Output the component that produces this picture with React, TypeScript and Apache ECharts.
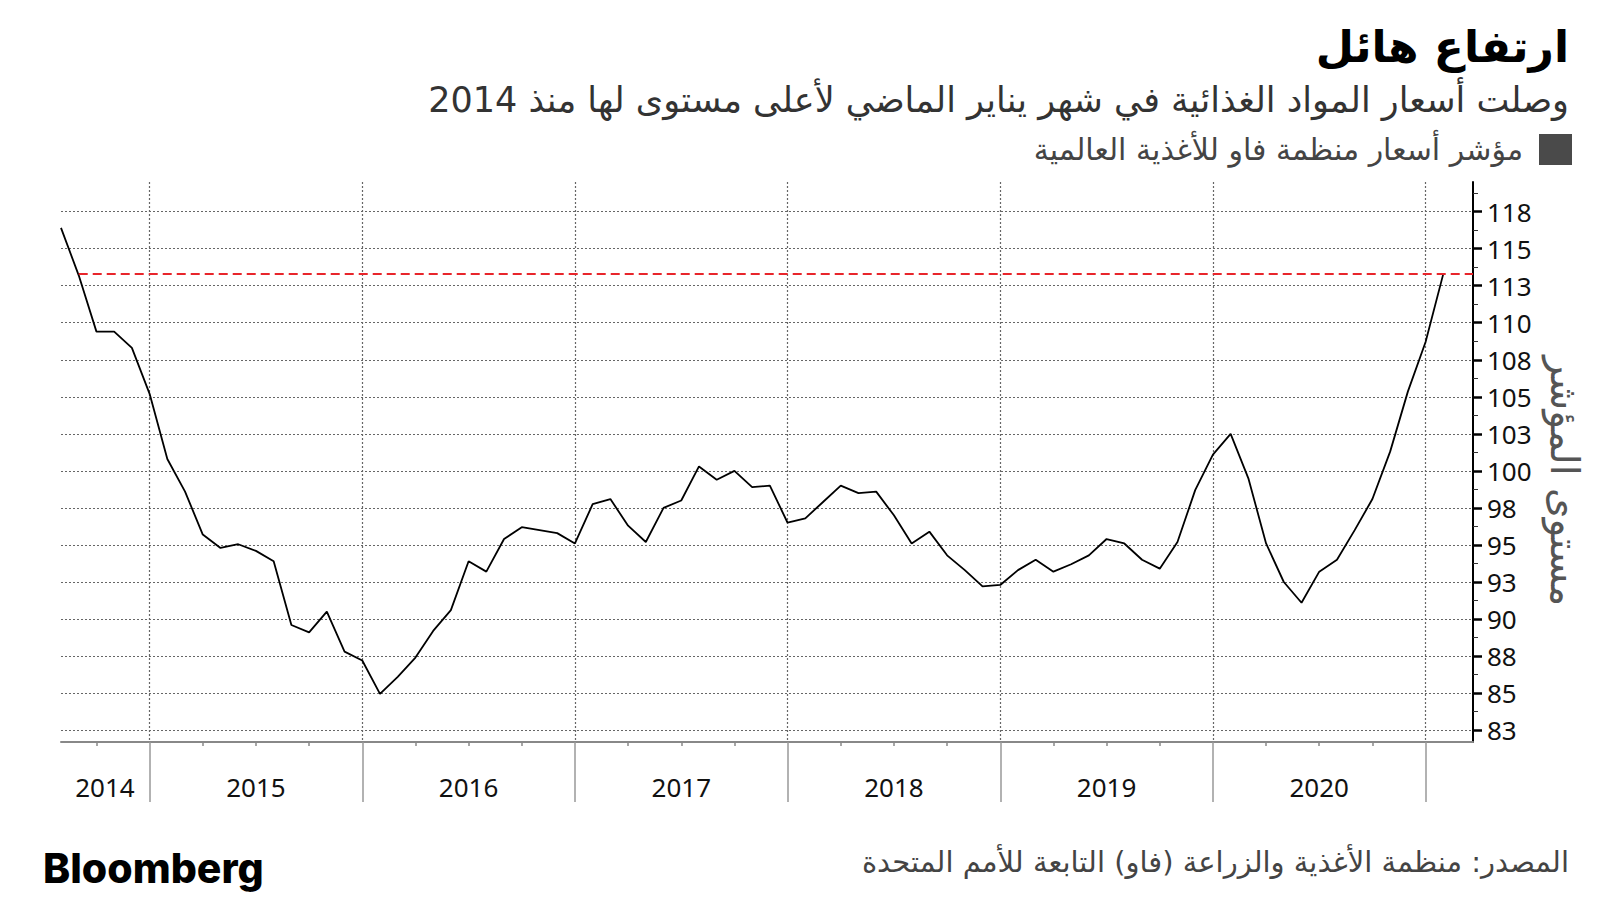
import React, { useEffect, useRef } from 'react';
import * as echarts from 'echarts';

// FAO Food Price Index, monthly (points plotted at month end)
const firstYear = 2014;
const firstMonth = 7; // July 2014
const fpi2014 = [116.4, 113.2, 109.4, 109.4, 108.3, 105.2];
const fpi2015 = [100.8, 98.6, 95.7, 94.8, 95.05, 94.6, 93.9, 89.6, 89.1, 90.5, 87.8, 87.2];
const fpi2016 = [84.95, 86.1, 87.4, 89.2, 90.6, 93.9, 93.2, 95.4, 96.2, 96.0, 95.8, 95.1];
const fpi2017 = [97.75, 98.1, 96.3, 95.2, 97.5, 98.0, 100.3, 99.4, 100.0, 98.9, 99.0, 96.5];
const fpi2018 = [96.8, 97.9, 99.0, 98.5, 98.6, 97.0, 95.1, 95.9, 94.3, 93.3, 92.2, 92.3];
const fpi2019 = [93.3, 94.0, 93.2, 93.7, 94.3, 95.4, 95.1, 94.0, 93.4, 95.2, 98.7, 101.1];
const fpi2020 = [102.5, 99.5, 95.1, 92.5, 91.1, 93.2, 94.0, 96.0, 98.1, 101.3, 105.35, 108.7];
const fpi2021 = [113.3];
const peakLevel = 113.3;

const yTickValues = [82.5, 85, 87.5, 90, 92.5, 95, 97.5, 100, 102.5, 105, 107.5, 110, 112.5, 115, 117.5];
const yTickLabels = ['83', '85', '88', '90', '93', '95', '98', '100', '103', '105', '108', '110', '113', '115', '118'];
const yMinorTicks = [83.75, 86.25, 88.75, 91.25, 93.75, 96.25, 98.75, 101.25, 103.75, 106.25, 108.75, 111.25, 113.75, 116.25, 118.75];

const yearBoundaries = [2015, 2016, 2017, 2018, 2019, 2020, 2021];
const yearLabelPositions = [2014.79, 2015.5, 2016.5, 2017.5, 2018.5, 2019.5, 2020.5];
const yearLabels = ['2014', '2015', '2016', '2017', '2018', '2019', '2020'];
const quarterTicks = [
  2014.75,
  2015.25, 2015.5, 2015.75,
  2016.25, 2016.5, 2016.75,
  2017.25, 2017.5, 2017.75,
  2018.25, 2018.5, 2018.75,
  2019.25, 2019.5, 2019.75,
  2020.25, 2020.5, 2020.75,
];

const xMin = 2014 + 7 / 12;
const xMax = 2021.223;
const yMin = 81.7;
const yMax = 119.5;

const TITLE = 'ارتفاع هائل';
const SUBTITLE = 'وصلت أسعار المواد الغذائية في شهر يناير الماضي لأعلى مستوى لها منذ 2014';
const SERIES_NAME = 'مؤشر أسعار منظمة فاو للأغذية العالمية';
const Y_NAME = 'مستوى المؤشر';
const SOURCE = 'المصدر: منظمة الأغذية والزراعة (فاو) التابعة للأمم المتحدة';

const AR_FONT = '"DejaVu Sans", sans-serif';
const NUM_FONT = '"Noto Sans", "Open Sans", sans-serif';

function buildSeries(): [number, number][] {
  const all = [...fpi2014, ...fpi2015, ...fpi2016, ...fpi2017, ...fpi2018, ...fpi2019, ...fpi2020, ...fpi2021];
  return all.map((v, i) => {
    const m = firstMonth + i; // months since Jan of firstYear (1-based, end of month)
    return [firstYear + m / 12, v];
  });
}

function lookup(vals: number[], labels: string[], v: number) {
  const i = vals.findIndex((p) => Math.abs(p - v) < 1e-6);
  return i >= 0 ? labels[i] : '';
}

export default function App() {
  const ref = useRef<HTMLDivElement>(null);
  useEffect(() => {
    if (!ref.current) return;
    const chart = echarts.init(ref.current, undefined, { renderer: 'svg' });
    const data = buildSeries();
    const augX = data[1][0];
    chart.setOption({
      animation: false,
      backgroundColor: '#ffffff',
      grid: { left: 61, right: 127, top: 182, bottom: 158, containLabel: false, outerBoundsMode: 'none' },
      legend: {
        show: true,
        right: 23,
        top: 129,
        align: 'right',
        itemWidth: 33,
        itemHeight: 31,
        data: [{ name: SERIES_NAME, icon: 'rect', itemStyle: { color: '#4a4a4a' } }],
        textStyle: { fontFamily: AR_FONT, fontSize: 30, color: '#444', padding: [0, 11, 0, 0] },
      },
      graphic: [
        {
          type: 'text',
          right: 31,
          top: 24,
          style: { text: TITLE, fontFamily: AR_FONT, fontSize: 44, fontWeight: 'bold', fill: '#000' },
        },
        {
          type: 'text',
          right: 31,
          top: 82,
          style: { text: SUBTITLE, fontFamily: AR_FONT, fontSize: 35, fill: '#333' },
        },
        {
          type: 'text',
          right: 31,
          top: 847,
          style: { text: SOURCE, fontFamily: AR_FONT, fontSize: 29, fill: '#444' },
        },
        {
          type: 'text',
          left: 43,
          top: 847,
          style: { text: 'Bloomberg', fontFamily: 'Inter, "Liberation Sans", sans-serif', fontSize: 41, fontWeight: 800, fill: '#000' },
        },
        {
          type: 'text',
          x: 1564,
          y: 481,
          rotation: -Math.PI / 2,
          style: {
            text: Y_NAME,
            fontFamily: AR_FONT,
            fontSize: 39,
            fill: '#555',
            textAlign: 'center',
            textVerticalAlign: 'middle',
          },
        },
      ],
      xAxis: [
        {
          type: 'value',
          min: xMin,
          max: xMax,
          position: 'bottom',
          axisLine: { show: true, lineStyle: { color: '#888', width: 2 } },
          axisTick: { show: true, customValues: yearBoundaries, length: 60, lineStyle: { color: '#999', width: 1.5 } },
          axisLabel: {
            show: true,
            customValues: yearLabelPositions,
            formatter: (v: number) => lookup(yearLabelPositions, yearLabels, v),
            margin: 32,
            fontFamily: NUM_FONT,
            fontSize: 26,
            color: '#111',
          },
          splitLine: { show: true, lineStyle: { color: '#666', width: 1.2, type: [2, 2] } },
        },
        {
          type: 'value',
          min: xMin,
          max: xMax,
          position: 'bottom',
          axisLine: { show: false },
          axisTick: { show: true, customValues: quarterTicks, length: 4, lineStyle: { color: '#888', width: 1.5 } },
          axisLabel: { show: false },
          splitLine: { show: false },
        },
      ],
      yAxis: [
        {
          type: 'value',
          min: yMin,
          max: yMax,
          position: 'right',
          axisLine: { show: true, lineStyle: { color: '#000', width: 2 } },
          axisTick: { show: true, customValues: yTickValues, length: 9, lineStyle: { color: '#000', width: 2.5 } },
          axisLabel: {
            show: true,
            customValues: yTickValues,
            formatter: (v: number) => lookup(yTickValues, yTickLabels, v),
            margin: 14,
            fontFamily: NUM_FONT,
            fontSize: 26,
            color: '#111',
          },
          splitLine: { show: true, lineStyle: { color: '#666', width: 1.2, type: [2, 2] } },
        },
        {
          type: 'value',
          min: yMin,
          max: yMax,
          position: 'right',
          axisLine: { show: false },
          axisTick: { show: true, customValues: yMinorTicks, length: 5, lineStyle: { color: '#333', width: 1 } },
          axisLabel: { show: false },
          splitLine: { show: false },
        },
      ],
      series: [
        {
          name: SERIES_NAME,
          type: 'line',
          xAxisIndex: 0,
          yAxisIndex: 0,
          data,
          showSymbol: false,
          symbol: 'none',
          itemStyle: { color: '#4a4a4a' },
          lineStyle: { color: '#000', width: 1.8 },
          markLine: {
            silent: true,
            symbol: 'none',
            label: { show: false },
            lineStyle: { color: '#e8252b', width: 2, type: [9, 5] },
            data: [[{ coord: [augX, peakLevel] }, { coord: [xMax, peakLevel] }]],
          },
        },
      ],
    });
    return () => chart.dispose();
  }, []);
  return <div ref={ref} style={{ position: 'fixed', left: 0, top: 0, width: 1600, height: 900, background: '#fff' }} />;
}
